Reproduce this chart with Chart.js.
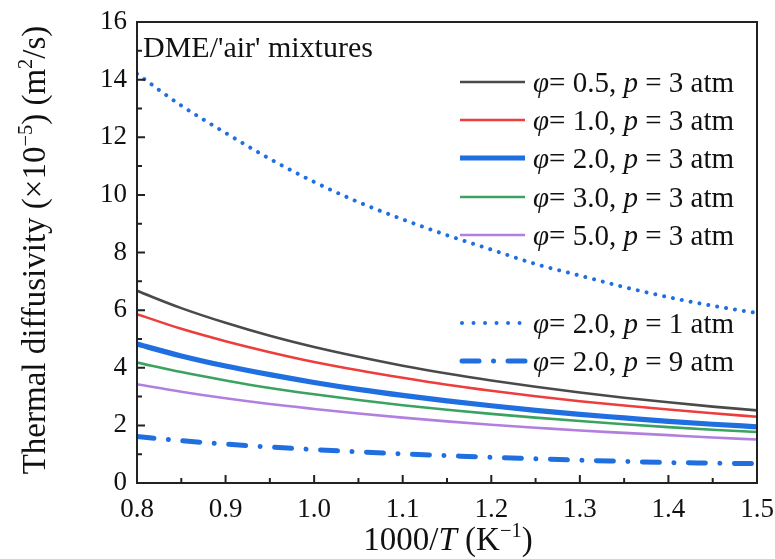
<!DOCTYPE html>
<html>
<head>
<meta charset="utf-8">
<script src="https://cdn.jsdelivr.net/npm/chart.js@4.4.1/dist/chart.umd.min.js"></script>
<style>
  body { margin: 0; background: #fff; }
  #chart { display: block; }
</style>
</head>
<body>
<canvas id="chart" width="775" height="559"></canvas>
<script>
// 1000/T (K^-1)
var invT = [0.80, 0.85, 0.90, 0.95, 1.00, 1.05, 1.10, 1.15, 1.20, 1.25, 1.30, 1.35, 1.40, 1.45, 1.50];

// thermal diffusivity (x10^-5 m2/s)
var phi05_p3 = [6.67, 6.07, 5.56, 5.11, 4.72, 4.38, 4.07, 3.80, 3.56, 3.34, 3.14, 2.96, 2.80, 2.65, 2.52];
var phi10_p3 = [5.86, 5.35, 4.92, 4.54, 4.20, 3.91, 3.65, 3.41, 3.20, 3.01, 2.84, 2.69, 2.55, 2.42, 2.30];
var phi20_p3 = [4.82, 4.41, 4.06, 3.76, 3.49, 3.25, 3.04, 2.85, 2.68, 2.52, 2.38, 2.26, 2.14, 2.04, 1.95];
var phi30_p3 = [4.18, 3.85, 3.56, 3.30, 3.08, 2.88, 2.70, 2.54, 2.40, 2.27, 2.15, 2.04, 1.94, 1.85, 1.77];
var phi50_p3 = [3.43, 3.17, 2.94, 2.74, 2.57, 2.41, 2.27, 2.14, 2.02, 1.92, 1.82, 1.74, 1.66, 1.58, 1.51];
var phi20_p1 = [14.2, 13.1, 12.15, 11.25, 10.45, 9.75, 9.15, 8.6, 8.1, 7.6, 7.2, 6.8, 6.45, 6.15, 5.9];
var phi20_p9 = [1.61, 1.47, 1.35, 1.25, 1.16, 1.08, 1.01, 0.95, 0.89, 0.84, 0.79, 0.75, 0.71, 0.69, 0.67];

var seriesPhi = ['0.5', '1.0', '2.0', '3.0', '5.0', '2.0', '2.0'];
var seriesP = ['3', '3', '3', '3', '3', '1', '9'];

var serif = '"Liberation Serif", "Times New Roman", serif';

function pts(arr) {
    return arr.map(function (v, i) { return { x: invT[i], y: v }; });
}

function line(data, color, width, dash) {
    return {
        data: pts(data),
        borderColor: color,
        borderWidth: width,
        borderDash: dash || [],
        borderCapStyle: dash ? 'round' : 'butt',
        pointRadius: 0,
        fill: false,
        cubicInterpolationMode: 'monotone'
    };
}

// draw text made of pieces: [text, style] style: '' | 'i' (italic) | 's' (superscript)
function richWidth(ctx, parts, size) {
    var w = 0;
    parts.forEach(function (p) {
        var s = p[1] === 's' ? size * 0.62 : size;
        ctx.font = (p[1] === 'i' ? 'italic ' : '') + s + 'px ' + serif;
        w += ctx.measureText(p[0]).width;
    });
    return w;
}
function drawRich(ctx, parts, x, y, size, align) {
    var w = richWidth(ctx, parts, size);
    var cx = align === 'center' ? x - w / 2 : x;
    ctx.textAlign = 'left';
    ctx.textBaseline = 'alphabetic';
    parts.forEach(function (p) {
        var s = p[1] === 's' ? size * 0.62 : size;
        ctx.font = (p[1] === 'i' ? 'italic ' : '') + s + 'px ' + serif;
        ctx.fillText(p[0], cx, p[1] === 's' ? y - size * 0.4 : y);
        cx += ctx.measureText(p[0]).width;
    });
}

var frame = {
    id: 'frame',
    afterDatasetsDraw: function (chart) {
        var ctx = chart.ctx, a = chart.chartArea;
        var xs = chart.scales.x, ys = chart.scales.y;
        ctx.save();
        ctx.strokeStyle = '#222';
        ctx.lineWidth = 2;
        ctx.strokeRect(a.left, a.top, a.right - a.left, a.bottom - a.top);

        // inward ticks, majors and minors
        ctx.beginPath();
        for (var i = 0; i <= 14; i++) {
            var xv = xs.getPixelForValue(0.8 + i * 0.05);
            var len = i % 2 === 0 ? 8 : 5;
            ctx.moveTo(xv, a.bottom); ctx.lineTo(xv, a.bottom - len);
        }
        for (var j = 0; j <= 16; j++) {
            var yv = ys.getPixelForValue(j);
            var l2 = j % 2 === 0 ? 8 : 5;
            ctx.moveTo(a.left, yv); ctx.lineTo(a.left + l2, yv);
        }
        ctx.stroke();

        ctx.fillStyle = '#111';
        // annotation
        ctx.font = '30px ' + serif;
        ctx.textBaseline = 'alphabetic';
        ctx.fillText("DME/'air' mixtures", 143, 57);

        // legend
        var rowY = [82, 120, 158, 197, 235, 323, 361];
        chart.data.datasets.forEach(function (ds, k) {
            var y = rowY[k];
            ctx.save();
            ctx.strokeStyle = ds.borderColor;
            ctx.lineWidth = ds.borderWidth;
            ctx.lineCap = ds.borderCapStyle;
            ctx.setLineDash(k === 5 ? [0.01, 11.5] : ds.borderDash);
            ctx.beginPath();
            ctx.moveTo(k >= 5 ? 462 : 460, y);
            ctx.lineTo(k === 5 ? 520 : 525, y);
            ctx.stroke();
            ctx.restore();
            ctx.fillStyle = '#111';
            drawRich(ctx, [['\u03c6', 'i'], ['= ' + seriesPhi[k] + ', ', ''], ['p', 'i'], [' = ' + seriesP[k] + ' atm', '']], 533, y + 10, 29, 'left');
        });

        // axis titles
        drawRich(ctx, [['1000/', ''], ['T', 'i'], [' (K', ''], ['\u22121', 's'], [')', '']], 448, 550, 33, 'center');
        ctx.save();
        ctx.translate(45, 250);
        ctx.rotate(-Math.PI / 2);
        drawRich(ctx, [['Thermal diffusivity (\u00d710', ''], ['\u22125', 's'], [') (m', ''], ['2', 's'], ['/s)', '']], 0, 0, 33, 'center');
        ctx.restore();
        ctx.restore();
    }
};

var tickFont = { family: serif, size: 27 };

new Chart(document.getElementById('chart'), {
    type: 'line',
    data: {
        datasets: [
            line(phi05_p3, '#4a4a4a', 2.6),
            line(phi10_p3, '#ee3d3d', 2.6),
            line(phi20_p3, '#1f6fe0', 5.2),
            line(phi30_p3, '#3aa361', 2.6),
            line(phi50_p3, '#b27fe0', 2.6),
            line(phi20_p1, '#1f6fe0', 4, [0.01, 9]),
            line(phi20_p9, '#1f6fe0', 5, [17, 14.5, 0.01, 14.5])
        ]
    },
    options: {
        responsive: false,
        animation: false,
        layout: { padding: { left: 0, right: 18, top: 22, bottom: 0 } },
        plugins: { legend: { display: false }, tooltip: { enabled: false } },
        scales: {
            x: {
                type: 'linear', min: 0.8, max: 1.5,
                grid: { display: false, drawTicks: false },
                border: { display: false },
                ticks: {
                    stepSize: 0.1, padding: 11, color: '#111', font: tickFont,
                    maxRotation: 0, autoSkip: false,
                    callback: function (v) { return v.toFixed(1); }
                },
                afterFit: function (s) { s.height = 76; s.paddingLeft = 0; s.paddingRight = 0; }
            },
            y: {
                min: 0, max: 16,
                grid: { display: false, drawTicks: false },
                border: { display: false },
                ticks: { stepSize: 2, padding: 10, color: '#111', font: tickFont },
                afterFit: function (s) { s.width = 137; s.paddingTop = 0; s.paddingBottom = 0; }
            }
        }
    },
    plugins: [frame]
});
</script>
</body>
</html>
